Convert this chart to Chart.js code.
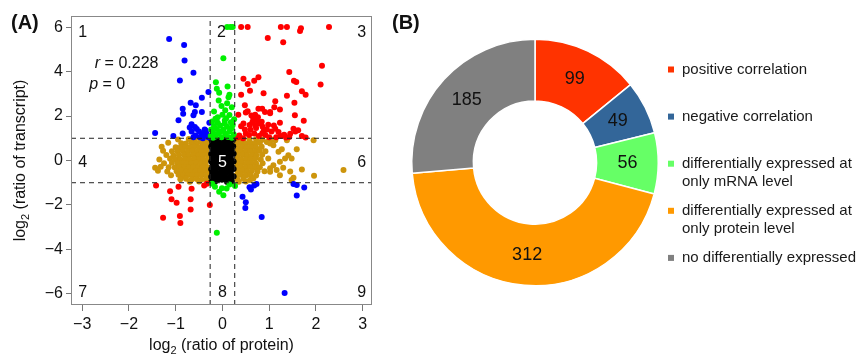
<!DOCTYPE html>
<html>
<head>
<meta charset="utf-8">
<script src="https://cdn.jsdelivr.net/npm/chart.js@4.4.1/dist/chart.umd.min.js"></script>
<style>
  html, body { margin: 0; padding: 0; background: #fff; }
  #wrap { position: relative; width: 861px; height: 357px; }
  #chartA { position: absolute; left: 0; top: 0; }
  #chartB { position: absolute; left: 380px; top: 0; }
</style>
</head>
<body>
<div id="wrap">
  <canvas id="chartA" width="380" height="357"></canvas>
  <canvas id="chartB" width="481" height="357"></canvas>
</div>
<script>
// ---- panel A: log2 ratios (protein, transcript) ----
const xTicks = [-3, -2, -1, 0, 1, 2, 3];
const yTicks = [-6, -4, -2, 0, 2, 4, 6];
const proteinCut = 0.263;   // log2(1.2)
const transcriptCut = 1;

const redPts = [
  [0.40,6],[0.54,6],[1.25,6],[1.38,6],[1.68,5.95],[1.66,5.82],[2.28,6],
  [0.97,5.51],[1.30,5.32],[2.13,4.26],[1.43,3.98],[0.45,3.68],[0.77,3.74],[0.68,3.59],[0.54,3.44],
  [1.53,3.59],[1.58,3.53],[2.10,3.42],[0.59,3.14],[0.40,2.96],[0.88,3.02],[1.38,2.91],[1.70,3.11],
  [1.78,2.96],[1.13,2.66],[1.54,2.60],[1.11,2.40],[0.48,2.48],[0.77,2.33],[0.85,2.33],[1.02,2.18],
  [0.54,2.21],[0.34,2.06],[1.55,2.03],[1.74,1.79],[1.23,1.70],[0.98,1.61],
  [0.50,2.16],[0.91,2.18],[1.23,2.29],[1.02,2.12],[0.45,1.66],[0.40,1.54],
  [0.62,2.02],[0.70,2.06],[0.76,1.95],[0.66,1.88],[0.74,1.80],[0.64,1.72],[0.78,1.66],[0.70,1.58],
  [0.84,1.74],[0.58,1.60],[0.86,1.52],
  [1.13,1.43],[1.20,1.28],[1.52,1.43],[1.56,1.30],[1.62,1.36],
  [0.50,1.22],[0.57,1.15],[0.68,1.22],[0.78,1.10],[0.85,1.22],[0.92,1.15],[1.00,1.05],[1.25,1.10],
  [1.32,1.16],[1.36,1.03],[1.43,1.06],
  [0.33,1.05],[0.44,1.00],[0.36,1.12],[1.78,1.03],[1.70,1.10],[0.95,1.40],[0.60,1.38],
  [1.05,1.30],[1.10,1.58],[0.48,1.40],[1.45,1.20],[0.88,1.32],[1.15,1.05],[0.72,1.46],
  [-1.42,-1.12],[-1.12,-1.38],[-0.94,-1.18],[-0.66,-1.27],[-1.09,-1.74],[-0.98,-1.90],[-0.68,-1.74],
  [-0.68,-2.20],[-1.27,-2.57],[-0.91,-2.50],[-0.90,-2.81],[-0.27,-2.00],[-0.39,-1.12],[-0.33,-1.05]
];

const bluePts = [
  [-1.14,5.47],[-0.82,5.20],[-0.81,4.50],[-0.62,3.95],[-0.91,3.60],[-0.30,3.08],[-0.44,2.82],
  [-0.68,2.60],[-0.57,2.48],[-0.85,2.33],[-0.84,2.10],[-0.62,2.03],[-0.94,1.81],[-0.66,1.63],
  [-0.44,2.18],[-0.59,2.18],[-0.85,1.21],[-1.44,1.24],[-1.05,1.10],[-0.59,1.51],[-0.28,1.70],
  [-0.55,1.42],[-0.50,1.30],[-0.45,1.20],[-0.40,1.10],[-0.35,1.25],[-0.58,1.12],[-0.70,1.48],
  [-0.48,1.05],[-0.30,1.05],[-0.38,1.40],[-0.66,1.30],[-0.62,1.05],[-0.34,1.15],[-0.42,1.00],
  [-0.36,1.35],
  [0.43,-1.63],[0.50,-1.88],[0.49,-2.14],[0.61,-1.30],[0.68,-1.12],[0.73,-1.06],[0.84,-2.54],
  [1.52,-1.06],[1.59,-1.10],[1.59,-1.57],[1.75,-1.21],[1.33,-5.96],[0.58,-1.20]
];

const greenPts = [
  [0.10,6],[0.17,6],[0.22,6],
  [0.02,4.60],[-0.14,3.52],[-0.12,3.23],[-0.07,3.05],[0.11,3.33],[0.15,2.96],[0.10,2.57],
  [-0.02,2.45],[0.06,2.26],[0.00,2.06],[0.13,2.85],
  [-0.22,1.75],[-0.10,1.70],[0.05,1.80],[0.18,1.72],[0.22,1.60],[-0.18,1.55],[-0.05,1.58],
  [0.10,1.52],[0.20,1.45],[-0.24,1.40],[-0.12,1.42],[0.02,1.38],[0.15,1.30],[-0.20,1.25],
  [-0.08,1.22],[0.06,1.20],[0.24,1.18],[-0.25,1.10],[-0.15,1.08],[-0.02,1.05],[0.12,1.06],
  [0.20,1.02],[-0.10,1.95],[0.15,2.05],[-0.20,1.02],[0.08,1.90],[0.25,1.85],[-0.04,1.30],
  [-0.18,2.20],[0.20,2.40],[-0.08,2.70],[0.05,1.65],[-0.15,1.88],
  [-0.16,-1.18],[-0.07,-1.41],[0.02,-1.56],[0.09,-1.26],[-0.01,-1.25],[0.27,-1.15],
  [-0.12,-3.25],[-0.22,-1.05],[0.15,-1.08]
];

const goldPts = [
  // left lobe
  [-0.95,0.95],[-0.72,0.97],[-0.60,0.93],[-0.48,0.96],[-0.38,0.94],[-0.30,0.97],
  [-1.16,0.80],[-0.88,0.78],[-0.78,0.76],[-0.66,0.80],[-0.55,0.77],[-0.44,0.79],[-0.34,0.76],
  [-1.30,0.62],[-1.00,0.60],[-0.90,0.58],[-0.80,0.61],[-0.70,0.59],[-0.60,0.62],[-0.50,0.58],[-0.40,0.60],[-0.30,0.61],
  [-1.27,0.44],[-1.08,0.42],[-0.96,0.40],[-0.85,0.43],[-0.74,0.41],[-0.64,0.44],[-0.54,0.40],[-0.45,0.42],[-0.35,0.43],
  [-1.20,0.25],[-1.05,0.22],[-0.93,0.24],[-0.82,0.26],[-0.72,0.23],[-0.62,0.25],[-0.52,0.22],[-0.42,0.24],[-0.32,0.26],
  [-1.35,0.05],[-1.12,0.08],[-1.00,0.06],[-0.90,0.04],[-0.80,0.07],[-0.70,0.05],[-0.60,0.08],[-0.50,0.06],[-0.40,0.04],[-0.30,0.07],
  [-1.25,-0.12],[-1.08,-0.10],[-0.96,-0.13],[-0.86,-0.11],[-0.76,-0.14],[-0.66,-0.12],[-0.56,-0.10],[-0.46,-0.13],[-0.36,-0.11],
  [-1.44,-0.33],[-1.32,-0.28],[-1.15,-0.30],[-1.02,-0.31],[-0.92,-0.28],[-0.82,-0.30],[-0.72,-0.32],[-0.62,-0.29],[-0.52,-0.31],[-0.42,-0.28],[-0.32,-0.30],
  [-1.38,-0.46],[-1.18,-0.50],[-0.98,-0.48],[-0.88,-0.46],[-0.78,-0.49],[-0.68,-0.47],[-0.58,-0.50],[-0.48,-0.48],[-0.38,-0.46],[-0.29,-0.49],
  [-1.10,-0.66],[-0.94,-0.64],[-0.84,-0.67],[-0.74,-0.65],[-0.64,-0.68],[-0.54,-0.66],[-0.44,-0.64],[-0.34,-0.67],
  [-0.90,-0.84],[-0.78,-0.82],[-0.66,-0.85],[-0.55,-0.83],[-0.45,-0.86],[-0.35,-0.84],
  [-0.70,-0.96],[-0.50,-0.95],[-0.32,-0.97],
  // right lobe
  [0.32,0.95],[0.45,0.97],[0.58,0.94],[0.72,0.96],[0.85,0.93],[1.05,0.95],[1.38,0.91],[1.95,0.91],
  [0.30,0.78],[0.40,0.80],[0.50,0.77],[0.60,0.79],[0.70,0.76],[0.80,0.80],[0.95,0.83],[1.13,0.91],[1.02,0.76],
  [0.32,0.60],[0.42,0.62],[0.52,0.58],[0.62,0.61],[0.72,0.59],[0.84,0.62],[1.09,0.69],[1.27,0.51],
  [0.30,0.42],[0.40,0.44],[0.50,0.41],[0.60,0.43],[0.70,0.40],[0.80,0.44],[0.92,0.42],[1.20,0.39],[1.59,0.51],
  [0.33,0.24],[0.43,0.26],[0.53,0.23],[0.63,0.25],[0.73,0.22],[0.85,0.26],[1.41,0.24],
  [0.30,0.06],[0.40,0.04],[0.50,0.07],[0.60,0.05],[0.70,0.08],[0.82,0.05],[0.98,0.09],[1.34,0.09],[1.48,0.09],
  [0.32,-0.12],[0.42,-0.10],[0.52,-0.13],[0.62,-0.11],[0.72,-0.14],[0.86,-0.12],[1.23,-0.06],[1.09,-0.21],
  [0.30,-0.30],[0.40,-0.28],[0.50,-0.31],[0.60,-0.29],[0.70,-0.32],[0.80,-0.30],[1.02,-0.35],[1.30,-0.33],[1.70,-0.40],
  [0.33,-0.48],[0.43,-0.46],[0.53,-0.49],[0.63,-0.47],[0.75,-0.50],[0.90,-0.48],[1.16,-0.43],[1.45,-0.50],[1.02,-0.51],
  [0.30,-0.66],[0.40,-0.64],[0.50,-0.67],[0.60,-0.65],[0.72,-0.68],[1.23,-0.66],[1.96,-0.69],
  [0.32,-0.84],[0.45,-0.82],[0.59,-0.88],[0.66,-0.81],[1.52,-0.78],[1.48,-0.88],
  [0.35,-0.96],[0.50,-0.95],
  [2.59,-0.43]
];

const blackPts = [
  [-0.24,0.96],[-0.14,0.95],[-0.04,0.97],[0.06,0.96],[0.16,0.95],[0.24,0.97],
  [-0.22,0.80],[-0.12,0.79],[-0.02,0.81],[0.08,0.80],[0.18,0.78],
  [-0.24,0.63],[-0.15,0.62],[-0.05,0.64],[0.05,0.63],[0.14,0.61],[0.23,0.64],
  [-0.21,0.46],[-0.11,0.45],[-0.01,0.47],[0.09,0.46],[0.19,0.44],
  [-0.24,0.29],[-0.14,0.28],[-0.04,0.30],[0.06,0.29],[0.16,0.27],[0.24,0.30],
  [-0.22,0.12],[-0.12,0.11],[-0.02,0.13],[0.08,0.12],[0.18,0.10],
  [-0.24,-0.05],[-0.15,-0.06],[-0.05,-0.04],[0.05,-0.05],[0.15,-0.07],[0.24,-0.04],
  [-0.21,-0.22],[-0.11,-0.23],[-0.01,-0.21],[0.09,-0.22],[0.19,-0.24],
  [-0.24,-0.39],[-0.14,-0.40],[-0.04,-0.38],[0.06,-0.39],[0.16,-0.41],[0.24,-0.38],
  [-0.22,-0.56],[-0.12,-0.57],[-0.02,-0.55],[0.08,-0.56],[0.18,-0.58],
  [-0.24,-0.73],[-0.15,-0.74],[-0.05,-0.72],[0.05,-0.73],[0.15,-0.75],[0.24,-0.72],
  [-0.21,-0.88],[-0.11,-0.89],[-0.01,-0.87],[0.09,-0.88],[0.19,-0.90],
  [-0.24,-0.97],[-0.16,-0.96],[0.10,-0.97],[0.20,-0.96]
];

const quadText = ['1', '2', '3', '4', '5', '6', '7', '8', '9'];
const quadX = [-2.99, -0.02, 2.98, -2.99, 0.0, 2.98, -2.99, 0.0, 2.98];
const quadY = [5.77, 5.77, 5.77, -0.11, -0.11, -0.11, -5.92, -5.92, -5.92];

// ---- panel B: group counts ----
const groupNames = ['positive correlation', 'negative correlation',
  'differentially expressed at only mRNA level',
  'differentially expressed at only protein level',
  'no differentially expressed'];
const groupLegend = [
  ['positive correlation'],
  ['negative correlation'],
  ['differentially expressed at', 'only mRNA level'],
  ['differentially expressed at', 'only protein level'],
  ['no differentially expressed']
];
const groupCounts = [99, 49, 56, 312, 185];
const groupColors = ['#ff3300', '#336699', '#66ff66', '#ff9900', '#808080'];

const FONT = '"Liberation Sans", Arial, sans-serif';
const xMin = -3.24, xMax = 3.2, yMin = -6.5, yMax = 6.5;

function pts(list) {
  return list.map(p => ({ x: p[0], y: p[1] }));
}
function dots(list, color) {
  return { data: pts(list), backgroundColor: color, borderWidth: 0, pointRadius: 3, pointHoverRadius: 3 };
}
function dashed(list) {
  return { type: 'line', data: pts(list), showLine: true, borderColor: '#222', borderWidth: 1,
    borderDash: [5, 4], pointRadius: 0, fill: false };
}
function minus(v) {
  return v < 0 ? '\u2212' + Math.abs(v) : String(v);
}

// frame box, panel letter, axis titles and quadrant numbers
const panelAExtras = {
  id: 'panelAExtras',
  afterDatasetsDraw(chart) {
    const ctx = chart.ctx, a = chart.chartArea;
    const sx = chart.scales.x, sy = chart.scales.y;
    ctx.save();
    ctx.strokeStyle = '#888';
    ctx.lineWidth = 1;
    ctx.strokeRect(a.left + 0.5, a.top + 0.5, a.width - 1, a.height - 1);

    ctx.font = '16px ' + FONT;
    ctx.textAlign = 'center';
    ctx.textBaseline = 'middle';
    quadText.forEach((t, i) => {
      ctx.fillStyle = t === '5' ? '#fff' : '#111';
      ctx.fillText(t, sx.getPixelForValue(quadX[i]), sy.getPixelForValue(quadY[i]));
    });

    // correlation text
    ctx.fillStyle = '#111';
    ctx.textAlign = 'left';
    const stats = [['r', ' = 0.228', -2.73, 4.38], ['p', ' = 0', -2.85, 3.42]];
    stats.forEach(s => {
      const px = sx.getPixelForValue(s[2]), py = sy.getPixelForValue(s[3]);
      ctx.font = 'italic 16px ' + FONT;
      ctx.fillText(s[0], px, py);
      const w = ctx.measureText(s[0]).width;
      ctx.font = '16px ' + FONT;
      ctx.fillText(s[1], px + w, py);
    });
    ctx.restore();
  },
  afterDraw(chart) {
    const ctx = chart.ctx, a = chart.chartArea;
    ctx.save();
    ctx.fillStyle = '#111';
    ctx.font = 'bold 20px ' + FONT;
    ctx.textBaseline = 'alphabetic';
    ctx.textAlign = 'left';
    ctx.fillText('(A)', 11, 29);

    function title(pre, rest, cx, baseY) {
      ctx.font = '16px ' + FONT;
      const w1 = ctx.measureText(pre).width;
      const w3 = ctx.measureText(rest).width;
      ctx.font = '11px ' + FONT;
      const w2 = ctx.measureText('2').width;
      let x = cx - (w1 + w2 + w3) / 2;
      ctx.font = '16px ' + FONT;
      ctx.fillText(pre, x, baseY);
      ctx.font = '11px ' + FONT;
      ctx.fillText('2', x + w1, baseY + 4);
      ctx.font = '16px ' + FONT;
      ctx.fillText(rest, x + w1 + w2, baseY);
    }
    title('log', ' (ratio of protein)', (a.left + a.right) / 2, 350);
    ctx.translate(25, (a.top + a.bottom) / 2);
    ctx.rotate(-Math.PI / 2);
    title('log', ' (ratio of transcript)', 0, 0);
    ctx.restore();
  }
};

new Chart(document.getElementById('chartA'), {
  type: 'scatter',
  data: {
    datasets: [
      dashed([[-proteinCut, yMin], [-proteinCut, yMax]]),
      dashed([[proteinCut, yMin], [proteinCut, yMax]]),
      dashed([[xMin, transcriptCut], [xMax, transcriptCut]]),
      dashed([[xMin, -transcriptCut], [xMax, -transcriptCut]]),
      dots(greenPts, '#00f000'),
      dots(bluePts, '#0000ff'),
      dots(redPts, '#ff0000'),
      dots(blackPts, '#000000'),
      dots(goldPts, '#cd950c')
    ]
  },
  options: {
    responsive: false,
    animation: false,
    layout: { padding: { left: 0, top: 16, right: 8, bottom: 0 } },
    plugins: { legend: { display: false }, tooltip: { enabled: false } },
    scales: {
      x: {
        type: 'linear', min: xMin, max: xMax,
        afterFit: s => { s.height = 52; },
        afterBuildTicks: s => { s.ticks = xTicks.map(v => ({ value: v })); },
        ticks: { callback: v => minus(v), color: '#111', font: { size: 16, family: FONT }, padding: 4, maxRotation: 0 },
        grid: { drawOnChartArea: false, drawTicks: true, tickLength: 6, color: '#777' },
        border: { display: false }
      },
      y: {
        type: 'linear', min: yMin, max: yMax,
        afterFit: s => { s.width = 71; },
        afterBuildTicks: s => { s.ticks = yTicks.map(v => ({ value: v })); },
        ticks: { callback: v => minus(v), color: '#111', font: { size: 16, family: FONT }, padding: 3 },
        grid: { drawOnChartArea: false, drawTicks: true, tickLength: 5, color: '#777' },
        border: { display: false }
      }
    }
  },
  plugins: [panelAExtras]
});

// numbers on slices + legend on the right
const panelBExtras = {
  id: 'panelBExtras',
  afterDraw(chart) {
    const ctx = chart.ctx;
    const meta = chart.getDatasetMeta(0);
    ctx.save();
    ctx.fillStyle = '#111';
    ctx.font = 'bold 20px ' + FONT;
    ctx.textAlign = 'left';
    ctx.textBaseline = 'alphabetic';
    ctx.fillText('(B)', 12, 29);

    ctx.font = '18px ' + FONT;
    ctx.textAlign = 'center';
    ctx.textBaseline = 'middle';
    meta.data.forEach((arc, i) => {
      const p = arc.tooltipPosition();
      ctx.fillText(String(groupCounts[i]), p.x, p.y);
    });

    ctx.font = '15px ' + FONT;
    ctx.textAlign = 'left';
    groupLegend.forEach((lines, i) => {
      const y = 69.5 + i * 47.1;
      ctx.fillStyle = groupColors[i];
      ctx.fillRect(288, y - 3, 6, 6);
      ctx.fillStyle = '#1a1a1a';
      lines.forEach((t, j) => ctx.fillText(t, 302, y + j * 18));
    });
    ctx.restore();
  }
};

new Chart(document.getElementById('chartB'), {
  type: 'doughnut',
  data: {
    labels: groupNames,
    datasets: [{
      data: groupCounts,
      backgroundColor: groupColors,
      borderColor: '#ffffff',
      borderWidth: 1.5
    }]
  },
  options: {
    responsive: false,
    animation: false,
    cutout: '50%',
    layout: { padding: { left: 31, top: 38, right: 202, bottom: 70 } },
    plugins: { legend: { display: false }, tooltip: { enabled: false } }
  },
  plugins: [panelBExtras]
});
</script>
</body>
</html>
